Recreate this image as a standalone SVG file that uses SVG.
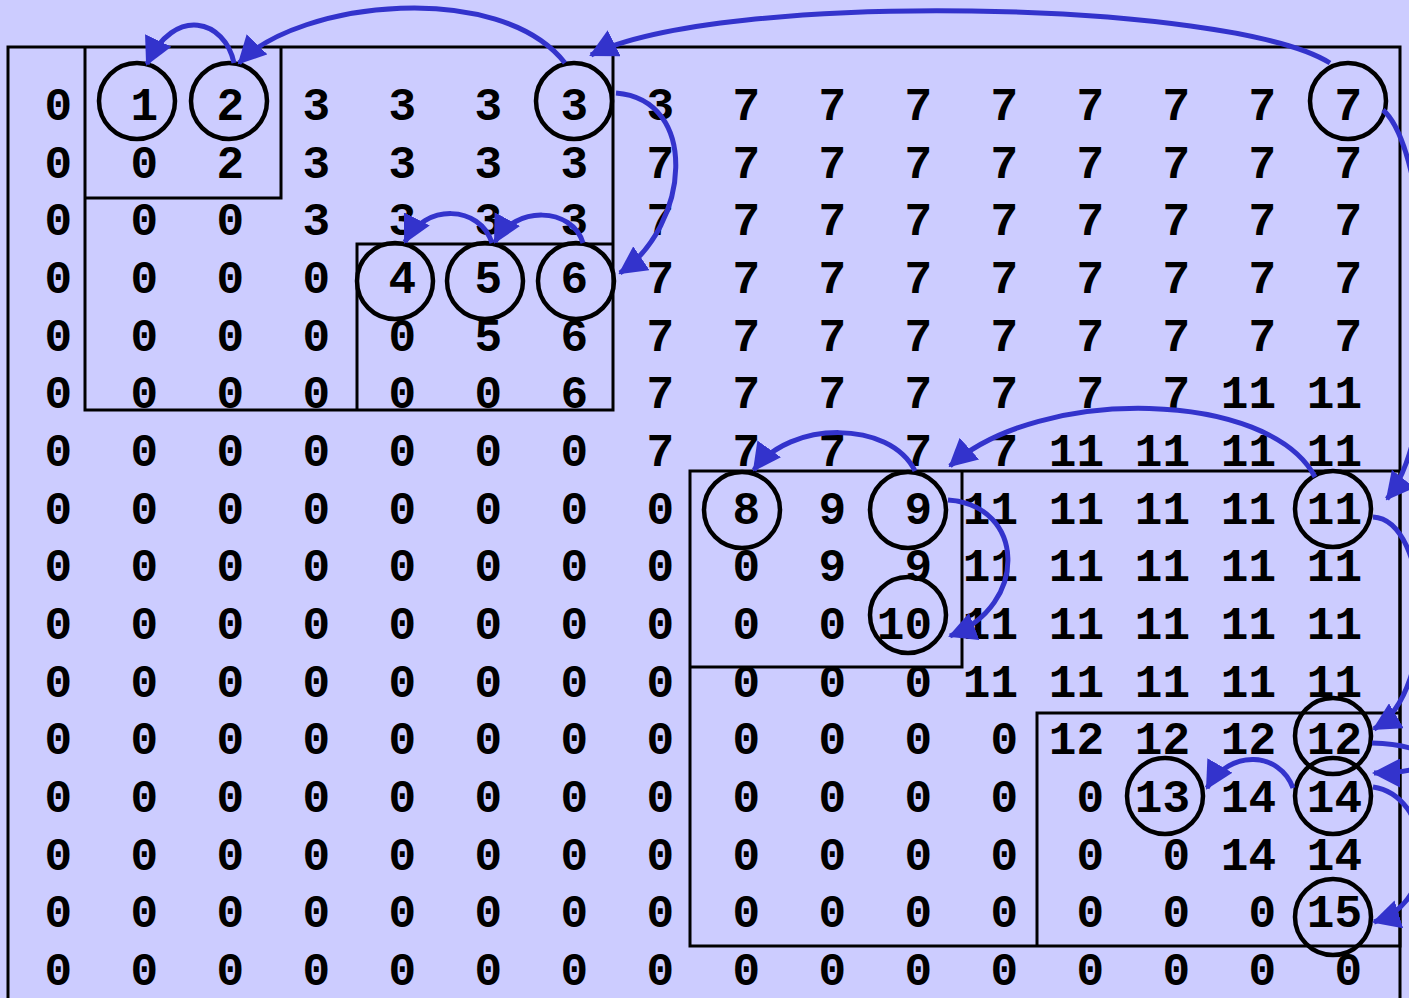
<svg xmlns="http://www.w3.org/2000/svg" width="1409" height="998" viewBox="0 0 1409 998">
<style>
.t{font-family:"Liberation Mono","Courier New",monospace;font-weight:bold;font-size:46px;fill:#000;text-anchor:end}
.b{fill:none;stroke:#000;stroke-width:3}
.n{fill:none;stroke:#000;stroke-width:4.5}
.e{fill:none;stroke:#3333cc;stroke-width:5}
</style>
<defs>
<marker id="ah" viewBox="0 0 28 29" markerWidth="28" markerHeight="29" refX="26" refY="14.5" orient="auto" markerUnits="userSpaceOnUse">
<path d="M0,0 L28,14.5 L0,29 z" fill="#3333cc"/>
</marker>
</defs>
<rect width="1409" height="998" fill="#ccccff"/>
<g id="boxes">
<path class="b" d="M8,1010 V47 H1400 V1010"/>
<path class="b" d="M85,47 V410 H613 V47"/>
<path class="b" d="M85,198 H281 V47"/>
<path class="b" d="M357,410 V244 H613"/>
<rect class="b" x="690" y="471" width="710" height="475"/>
<path class="b" d="M690,667 H962 V471"/>
<path class="b" d="M1037,946 V713 H1400"/>
</g>
<g id="grid">
<g transform="translate(0,120)"><text class="t" x="72">0</text><text class="t" x="158">1</text><text class="t" x="244">2</text><text class="t" x="330">3</text><text class="t" x="416">3</text><text class="t" x="502">3</text><text class="t" x="588">3</text><text class="t" x="674">3</text><text class="t" x="760">7</text><text class="t" x="846">7</text><text class="t" x="932">7</text><text class="t" x="1018">7</text><text class="t" x="1104">7</text><text class="t" x="1190">7</text><text class="t" x="1276">7</text><text class="t" x="1362">7</text></g>
<g transform="translate(0,177.7)"><text class="t" x="72">0</text><text class="t" x="158">0</text><text class="t" x="244">2</text><text class="t" x="330">3</text><text class="t" x="416">3</text><text class="t" x="502">3</text><text class="t" x="588">3</text><text class="t" x="674">7</text><text class="t" x="760">7</text><text class="t" x="846">7</text><text class="t" x="932">7</text><text class="t" x="1018">7</text><text class="t" x="1104">7</text><text class="t" x="1190">7</text><text class="t" x="1276">7</text><text class="t" x="1362">7</text></g>
<g transform="translate(0,235.3)"><text class="t" x="72">0</text><text class="t" x="158">0</text><text class="t" x="244">0</text><text class="t" x="330">3</text><text class="t" x="416">3</text><text class="t" x="502">3</text><text class="t" x="588">3</text><text class="t" x="674">7</text><text class="t" x="760">7</text><text class="t" x="846">7</text><text class="t" x="932">7</text><text class="t" x="1018">7</text><text class="t" x="1104">7</text><text class="t" x="1190">7</text><text class="t" x="1276">7</text><text class="t" x="1362">7</text></g>
<g transform="translate(0,293)"><text class="t" x="72">0</text><text class="t" x="158">0</text><text class="t" x="244">0</text><text class="t" x="330">0</text><text class="t" x="416">4</text><text class="t" x="502">5</text><text class="t" x="588">6</text><text class="t" x="674">7</text><text class="t" x="760">7</text><text class="t" x="846">7</text><text class="t" x="932">7</text><text class="t" x="1018">7</text><text class="t" x="1104">7</text><text class="t" x="1190">7</text><text class="t" x="1276">7</text><text class="t" x="1362">7</text></g>
<g transform="translate(0,350.7)"><text class="t" x="72">0</text><text class="t" x="158">0</text><text class="t" x="244">0</text><text class="t" x="330">0</text><text class="t" x="416">0</text><text class="t" x="502">5</text><text class="t" x="588">6</text><text class="t" x="674">7</text><text class="t" x="760">7</text><text class="t" x="846">7</text><text class="t" x="932">7</text><text class="t" x="1018">7</text><text class="t" x="1104">7</text><text class="t" x="1190">7</text><text class="t" x="1276">7</text><text class="t" x="1362">7</text></g>
<g transform="translate(0,408.3)"><text class="t" x="72">0</text><text class="t" x="158">0</text><text class="t" x="244">0</text><text class="t" x="330">0</text><text class="t" x="416">0</text><text class="t" x="502">0</text><text class="t" x="588">6</text><text class="t" x="674">7</text><text class="t" x="760">7</text><text class="t" x="846">7</text><text class="t" x="932">7</text><text class="t" x="1018">7</text><text class="t" x="1104">7</text><text class="t" x="1190">7</text><text class="t" x="1276">11</text><text class="t" x="1362">11</text></g>
<g transform="translate(0,466)"><text class="t" x="72">0</text><text class="t" x="158">0</text><text class="t" x="244">0</text><text class="t" x="330">0</text><text class="t" x="416">0</text><text class="t" x="502">0</text><text class="t" x="588">0</text><text class="t" x="674">7</text><text class="t" x="760">7</text><text class="t" x="846">7</text><text class="t" x="932">7</text><text class="t" x="1018">7</text><text class="t" x="1104">11</text><text class="t" x="1190">11</text><text class="t" x="1276">11</text><text class="t" x="1362">11</text></g>
<g transform="translate(0,523.7)"><text class="t" x="72">0</text><text class="t" x="158">0</text><text class="t" x="244">0</text><text class="t" x="330">0</text><text class="t" x="416">0</text><text class="t" x="502">0</text><text class="t" x="588">0</text><text class="t" x="674">0</text><text class="t" x="760">8</text><text class="t" x="846">9</text><text class="t" x="932">9</text><text class="t" x="1018">11</text><text class="t" x="1104">11</text><text class="t" x="1190">11</text><text class="t" x="1276">11</text><text class="t" x="1362">11</text></g>
<g transform="translate(0,581.3)"><text class="t" x="72">0</text><text class="t" x="158">0</text><text class="t" x="244">0</text><text class="t" x="330">0</text><text class="t" x="416">0</text><text class="t" x="502">0</text><text class="t" x="588">0</text><text class="t" x="674">0</text><text class="t" x="760">0</text><text class="t" x="846">9</text><text class="t" x="932">9</text><text class="t" x="1018">11</text><text class="t" x="1104">11</text><text class="t" x="1190">11</text><text class="t" x="1276">11</text><text class="t" x="1362">11</text></g>
<g transform="translate(0,639)"><text class="t" x="72">0</text><text class="t" x="158">0</text><text class="t" x="244">0</text><text class="t" x="330">0</text><text class="t" x="416">0</text><text class="t" x="502">0</text><text class="t" x="588">0</text><text class="t" x="674">0</text><text class="t" x="760">0</text><text class="t" x="846">0</text><text class="t" x="932">10</text><text class="t" x="1018">11</text><text class="t" x="1104">11</text><text class="t" x="1190">11</text><text class="t" x="1276">11</text><text class="t" x="1362">11</text></g>
<g transform="translate(0,696.7)"><text class="t" x="72">0</text><text class="t" x="158">0</text><text class="t" x="244">0</text><text class="t" x="330">0</text><text class="t" x="416">0</text><text class="t" x="502">0</text><text class="t" x="588">0</text><text class="t" x="674">0</text><text class="t" x="760">0</text><text class="t" x="846">0</text><text class="t" x="932">0</text><text class="t" x="1018">11</text><text class="t" x="1104">11</text><text class="t" x="1190">11</text><text class="t" x="1276">11</text><text class="t" x="1362">11</text></g>
<g transform="translate(0,754.3)"><text class="t" x="72">0</text><text class="t" x="158">0</text><text class="t" x="244">0</text><text class="t" x="330">0</text><text class="t" x="416">0</text><text class="t" x="502">0</text><text class="t" x="588">0</text><text class="t" x="674">0</text><text class="t" x="760">0</text><text class="t" x="846">0</text><text class="t" x="932">0</text><text class="t" x="1018">0</text><text class="t" x="1104">12</text><text class="t" x="1190">12</text><text class="t" x="1276">12</text><text class="t" x="1362">12</text></g>
<g transform="translate(0,812)"><text class="t" x="72">0</text><text class="t" x="158">0</text><text class="t" x="244">0</text><text class="t" x="330">0</text><text class="t" x="416">0</text><text class="t" x="502">0</text><text class="t" x="588">0</text><text class="t" x="674">0</text><text class="t" x="760">0</text><text class="t" x="846">0</text><text class="t" x="932">0</text><text class="t" x="1018">0</text><text class="t" x="1104">0</text><text class="t" x="1190">13</text><text class="t" x="1276">14</text><text class="t" x="1362">14</text></g>
<g transform="translate(0,869.7)"><text class="t" x="72">0</text><text class="t" x="158">0</text><text class="t" x="244">0</text><text class="t" x="330">0</text><text class="t" x="416">0</text><text class="t" x="502">0</text><text class="t" x="588">0</text><text class="t" x="674">0</text><text class="t" x="760">0</text><text class="t" x="846">0</text><text class="t" x="932">0</text><text class="t" x="1018">0</text><text class="t" x="1104">0</text><text class="t" x="1190">0</text><text class="t" x="1276">14</text><text class="t" x="1362">14</text></g>
<g transform="translate(0,927.3)"><text class="t" x="72">0</text><text class="t" x="158">0</text><text class="t" x="244">0</text><text class="t" x="330">0</text><text class="t" x="416">0</text><text class="t" x="502">0</text><text class="t" x="588">0</text><text class="t" x="674">0</text><text class="t" x="760">0</text><text class="t" x="846">0</text><text class="t" x="932">0</text><text class="t" x="1018">0</text><text class="t" x="1104">0</text><text class="t" x="1190">0</text><text class="t" x="1276">0</text><text class="t" x="1362">15</text></g>
<g transform="translate(0,985)"><text class="t" x="72">0</text><text class="t" x="158">0</text><text class="t" x="244">0</text><text class="t" x="330">0</text><text class="t" x="416">0</text><text class="t" x="502">0</text><text class="t" x="588">0</text><text class="t" x="674">0</text><text class="t" x="760">0</text><text class="t" x="846">0</text><text class="t" x="932">0</text><text class="t" x="1018">0</text><text class="t" x="1104">0</text><text class="t" x="1190">0</text><text class="t" x="1276">0</text><text class="t" x="1362">0</text></g>
</g>
<g id="node-1"><circle class="n" cx="137" cy="101" r="38"/></g>
<g id="node-2"><circle class="n" cx="229" cy="101" r="38"/></g>
<g id="node-3"><circle class="n" cx="574" cy="101" r="38"/></g>
<g id="node-7"><circle class="n" cx="1348" cy="101" r="38"/></g>
<g id="node-4"><circle class="n" cx="395" cy="281" r="38"/></g>
<g id="node-5"><circle class="n" cx="485" cy="281" r="38"/></g>
<g id="node-6"><circle class="n" cx="576" cy="281" r="38"/></g>
<g id="node-8"><circle class="n" cx="742" cy="510" r="38"/></g>
<g id="node-9"><circle class="n" cx="908" cy="510" r="38"/></g>
<g id="node-10"><circle class="n" cx="908" cy="615" r="38"/></g>
<g id="node-11"><circle class="n" cx="1333" cy="509" r="38"/></g>
<g id="node-12"><circle class="n" cx="1333" cy="736" r="38"/></g>
<g id="node-13"><circle class="n" cx="1165" cy="796" r="38"/></g>
<g id="node-14"><circle class="n" cx="1333" cy="796" r="38"/></g>
<g id="node-15"><circle class="n" cx="1333" cy="917" r="38"/></g>
<g id="connectors">
<path class="e" marker-end="url(#ah)" d="M234,63 C225,20 175,5 147,64"/>
<path class="e" marker-end="url(#ah)" d="M565,63 C500,-20 300,0 239,63"/>
<path class="e" marker-end="url(#ah)" d="M1330,63 C1230,0 720,-10 591,55"/>
<path class="e" marker-end="url(#ah)" d="M616,93 C700,100 690,225 620,273"/>
<path class="e" marker-end="url(#ah)" d="M492,243 C480,205 425,203 405,242"/>
<path class="e" marker-end="url(#ah)" d="M583,243 C572,207 515,205 495,242"/>
<path class="e" marker-end="url(#ah)" d="M1383,110 C1430,150 1450,420 1387,499"/>
<path class="e" marker-end="url(#ah)" d="M1315,477 C1270,390 1040,385 950,466"/>
<path class="e" marker-end="url(#ah)" d="M915,471 C890,420 790,420 754,470"/>
<path class="e" marker-end="url(#ah)" d="M948,500 C1025,505 1030,605 950,636"/>
<path class="e" marker-end="url(#ah)" d="M1373,517 C1430,520 1440,690 1374,729"/>
<path class="e" marker-end="url(#ah)" d="M1372,743 C1440,745 1450,773 1374,773"/>
<path class="e" marker-end="url(#ah)" d="M1293,788 C1280,752 1230,748 1207,788"/>
<path class="e" marker-end="url(#ah)" d="M1373,787 C1430,795 1445,900 1374,922"/>
</g>
</svg>
